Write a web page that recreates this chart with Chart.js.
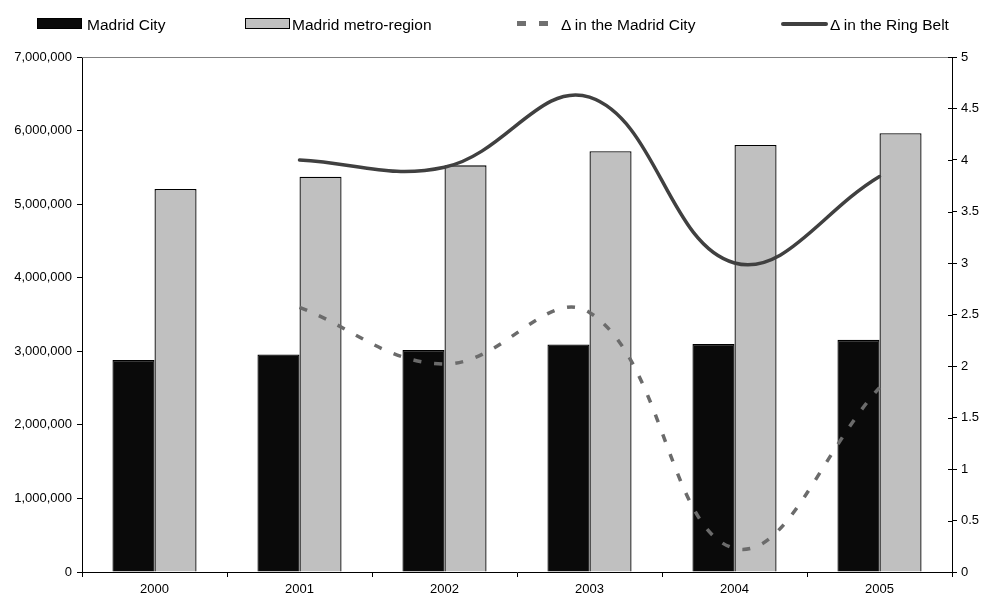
<!DOCTYPE html>
<html>
<head>
<meta charset="utf-8">
<title>Madrid population</title>
<script src="https://cdn.jsdelivr.net/npm/chart.js@4.4.1/dist/chart.umd.min.js"></script>
<style>
  html, body { margin: 0; padding: 0; background: #fff; }
  #wrap { position: relative; width: 983px; height: 599px; overflow: hidden; }
  #chart { position: absolute; left: 0; top: 0; }
  .lg { position: absolute; font-family: "Liberation Sans", Arial, sans-serif; font-size: 15.5px; line-height: 18px; color: #000; white-space: nowrap; top: 16px; }
  .sw { position: absolute; box-sizing: border-box; }
</style>
</head>
<body>
<div id="wrap">
  <canvas id="chart" width="983" height="599"></canvas>
  <div class="sw" style="left:37px;top:18px;width:45px;height:11px;background:#0a0a0a;border:1px solid #000;"></div>
  <div class="lg" style="left:87px;">Madrid City</div>
  <div class="sw" style="left:245px;top:18px;width:45px;height:11px;background:#c0c0c0;border:1px solid #000;"></div>
  <div class="lg" style="left:292px;">Madrid metro-region</div>
  <div class="sw" style="left:517px;top:21px;width:9px;height:5px;background:#707070;"></div>
  <div class="sw" style="left:539px;top:21px;width:9px;height:5px;background:#707070;"></div>
  <div class="lg" style="left:561px;">Δ in the Madrid City</div>
  <div class="sw" style="left:781px;top:21.5px;width:47px;height:4px;background:#404040;border-radius:2px;"></div>
  <div class="lg" style="left:830px;">Δ in the Ring Belt</div>
</div>
<script>
// Population (inhabitants) and yearly change (%)
const years = ['2000', '2001', '2002', '2003', '2004', '2005'];
const madridCity = [2882860, 2957058, 3016788, 3092759, 3099834, 3155359];
const madridMetro = [5205408, 5372433, 5527152, 5718942, 5804829, 5964143];
const deltaCity = [null, 2.57, 2.02, 2.52, 0.23, 1.79];
const deltaRing = [null, 4.00, 3.93, 4.61, 3.00, 3.84];

const FONT = '"Liberation Sans", Arial, sans-serif';
Chart.defaults.font.family = FONT;
Chart.defaults.color = '#000';

// thin frame line along the top of the plot area, and tick marks that
// cross the right-hand axis into the plot
const plotFrame = {
  id: 'plotFrame',
  beforeDatasetsDraw(chart) {
    const { ctx, chartArea: { left, right, top } } = chart;
    ctx.save();
    ctx.strokeStyle = '#808080';
    ctx.lineWidth = 1;
    ctx.beginPath();
    ctx.moveTo(left, Math.round(top) + 0.5);
    ctx.lineTo(right, Math.round(top) + 0.5);
    ctx.stroke();
    const r = chart.scales.y1;
    ctx.strokeStyle = '#000';
    ctx.beginPath();
    r.ticks.forEach(t => {
      const py = Math.round(r.getPixelForValue(t.value)) + 0.5;
      ctx.moveTo(r.left - 4, py);
      ctx.lineTo(r.left, py);
    });
    ctx.stroke();
    ctx.restore();
  }
};

new Chart(document.getElementById('chart'), {
  data: {
    labels: years,
    datasets: [
      {
        type: 'line', label: 'Δ in the Madrid City', data: deltaCity, yAxisID: 'y1', order: 1,
        borderColor: '#6b6b6b', borderWidth: 3.5, borderDash: [8, 13], tension: 0.4,
        pointRadius: 0, fill: false
      },
      {
        type: 'line', label: 'Δ in the Ring Belt', data: deltaRing, yAxisID: 'y1', order: 1,
        borderColor: '#404040', borderWidth: 3.5, tension: 0.4, borderCapStyle: 'round',
        pointRadius: 0, fill: false
      },
      {
        type: 'bar', label: 'Madrid City', data: madridCity, yAxisID: 'y', order: 2,
        backgroundColor: '#0a0a0a', borderColor: '#000', borderWidth: 1.3,
        barPercentage: 1, categoryPercentage: 0.58
      },
      {
        type: 'bar', label: 'Madrid metro-region', data: madridMetro, yAxisID: 'y', order: 2,
        backgroundColor: '#c0c0c0', borderColor: '#000', borderWidth: 1.3,
        barPercentage: 1, categoryPercentage: 0.58
      }
    ]
  },
  options: {
    responsive: false,
    animation: false,
    layout: { padding: { top: 57, left: 0, right: 0, bottom: 0 } },
    plugins: { legend: { display: false }, tooltip: { enabled: false } },
    scales: {
      x: {
        offset: true,
        grid: { offset: true, drawOnChartArea: false, drawTicks: true, tickLength: 5, color: '#000' },
        border: { color: '#000', width: 1 },
        ticks: { font: { size: 13 }, color: '#000', padding: 5, maxRotation: 0 },
        afterFit(s) { s.height = 27; }
      },
      y: {
        position: 'left', min: 0, max: 7000000,
        grid: { drawOnChartArea: false, tickLength: 5, color: '#000' },
        border: { color: '#000', width: 1 },
        ticks: { stepSize: 1000000, font: { size: 13 }, color: '#000', padding: 5,
                 callback: v => v.toLocaleString('en-US') },
        afterFit(s) { s.width = 82; }
      },
      y1: {
        position: 'right', min: 0, max: 5,
        grid: { drawOnChartArea: false, tickLength: 5, color: '#000' },
        border: { color: '#000', width: 1 },
        ticks: { stepSize: 0.5, font: { size: 13 }, color: '#000', padding: 4,
                 callback: v => String(v) },
        afterFit(s) { s.width = 31; }
      }
    }
  },
  plugins: [plotFrame]
});
</script>
</body>
</html>
